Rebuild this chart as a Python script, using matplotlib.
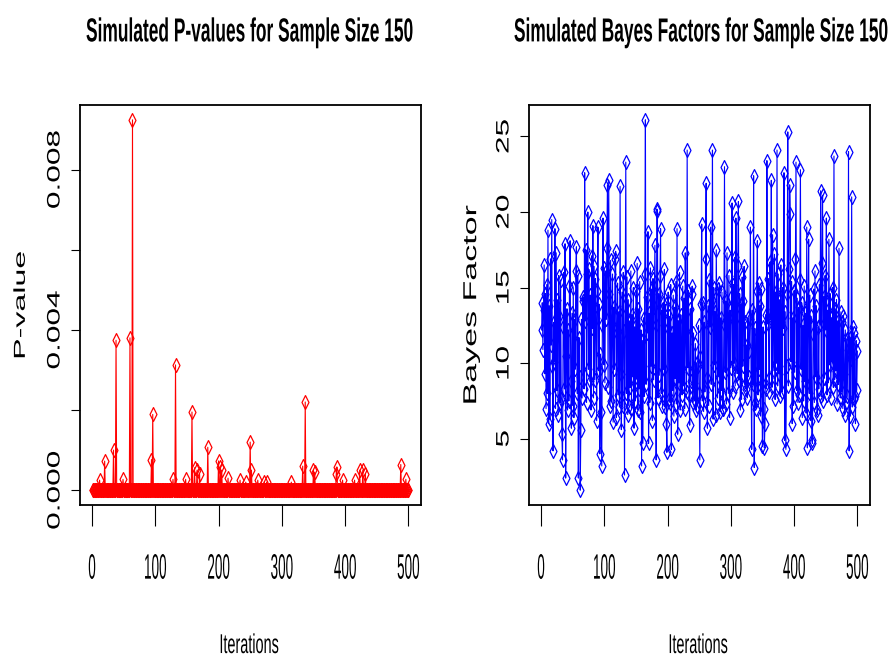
import numpy as np
import matplotlib
matplotlib.use("Agg")
import matplotlib.pyplot as plt
from matplotlib.patheffects import AbstractPathEffect
from matplotlib.transforms import Affine2D
from matplotlib.textpath import TextPath
from matplotlib.font_manager import FontProperties

plt.rcParams['font.family'] = ['Liberation Sans', 'DejaVu Sans']

# ---- data ----
iterations = np.arange(1, 501)

# p-values are ~0 everywhere except these iterations
spike_iter = [12, 20, 34, 38, 49, 60, 64, 94, 96, 128, 132, 148, 158, 162, 166,
              170, 183, 200, 203, 205, 215, 234, 243, 250, 252, 262, 272, 276,
              315, 333, 337, 350, 352, 386, 387, 396, 415, 423, 428, 432, 488, 496]
spike_p = [0.00025, 0.000725, 0.0010, 0.00374, 0.00027, 0.0038, 0.00924, 0.00076,
           0.00189, 0.00027, 0.003125, 0.00027, 0.00195, 0.00056, 0.0005,
           0.0004, 0.00107, 0.00073, 0.00058, 0.0005, 0.0003, 0.00025, 0.0002,
           0.0012, 0.0005, 0.00025, 0.0002, 0.0002,
           0.0002, 0.0006, 0.0022, 0.0005, 0.00045, 0.0004, 0.00058, 0.00025,
           0.00025, 0.0005, 0.0005, 0.0004, 0.00064, 0.00027]

bayes_factor = [
    12.2, 14.0, 10.9, 13.5, 16.5, 9.3, 14.6, 7.0, 15.2, 8.0, 18.8, 6.0, 13.8, 6.3, 16.9, 11.2, 19.5, 9.8, 4.2, 12.7,
    10.1, 18.9, 7.0, 17.3, 8.2, 14.2, 6.6, 15.8, 13.1, 7.4, 15.5, 7.6, 5.3, 3.6, 12.4, 16.0, 8.3, 17.9, 2.4, 10.5,
    13.6, 6.9, 12.2, 7.5, 15.1, 18.1, 8.8, 5.7, 13.3, 7.2, 15.0, 6.4, 12.9, 9.6, 16.1, 17.7, 8.0, 15.8, 2.4, 11.7,
    9.1, 1.6, 5.6, 12.9, 7.7, 14.4, 14.1, 8.3, 22.6, 12.8, 17.5, 7.4, 15.9, 20.0, 9.6, 16.2, 8.8, 14.5, 6.9, 17.1,
    12.3, 19.1, 7.7, 16.4, 8.9, 15.6, 13.0, 6.2, 14.8, 19.0, 9.5, 13.9, 4.0, 10.6, 6.8, 3.2, 12.5, 19.6, 9.9, 16.3,
    8.7, 16.1, 12.9, 17.6, 21.8, 8.4, 22.1, 14.6, 7.2, 16.8, 7.5, 12.6, 15.9, 6.1, 13.7, 9.6, 16.9, 17.4, 6.4, 12.0,
    15.3, 7.9, 13.4, 7.1, 21.7, 9.3, 5.6, 14.7, 7.2, 16.0, 12.1, 2.6, 13.8, 23.3, 8.0, 15.7, 6.6, 14.2, 7.2, 12.8,
    8.4, 16.1, 7.0, 13.2, 9.1, 15.0, 5.7, 12.4, 7.5, 14.8, 9.0, 16.6, 6.9, 13.6, 8.3, 15.4, 6.8, 12.2, 3.2, 11.5,
    4.7, 13.0, 7.8, 15.9, 26.1, 8.6, 14.4, 12.0, 18.7, 4.7, 13.3, 7.4, 16.3, 9.8, 14.9, 6.2, 15.6, 8.9, 13.7, 17.8,
    12.5, 3.6, 20.2, 20.1, 7.7, 14.6, 9.2, 15.8, 18.9, 8.0, 13.5, 7.2, 14.0, 9.6, 16.2, 7.1, 13.9, 6.0, 4.1, 12.3,
    14.7, 7.6, 13.1, 7.4, 15.2, 4.3, 12.0, 8.2, 14.5, 6.5, 13.7, 9.0, 15.4, 7.3, 18.9, 5.3, 12.8, 8.7, 16.0, 6.9,
    13.2, 9.4, 7.9, 15.1, 8.5, 14.3, 7.0, 17.3, 12.1, 8.1, 24.1, 9.7, 14.8, 7.9, 5.9, 13.6, 8.8, 14.6, 15.1, 7.4,
    12.0, 8.7, 7.5, 11.3, 6.9, 10.0, 7.2, 9.8, 12.5, 8.0, 3.6, 10.4, 13.9, 19.2, 7.5, 14.0, 6.8, 12.7, 8.1, 16.9,
    21.9, 9.0, 5.7, 13.8, 7.2, 15.5, 12.4, 19.0, 8.6, 14.2, 24.1, 6.3, 15.0, 9.9, 13.4, 6.6, 17.5, 12.2, 7.7, 14.9,
    9.1, 15.3, 6.8, 13.0, 8.2, 14.7, 7.0, 7.0, 12.6, 23.0, 9.4, 14.1, 7.3, 17.3, 12.8, 8.0, 15.8, 6.4, 13.5, 9.7,
    14.4, 20.6, 8.1, 15.2, 10.0, 17.0, 8.5, 19.6, 13.1, 9.3, 16.4, 20.7, 8.9, 14.6, 6.9, 13.9, 7.6, 15.7, 9.8, 14.1,
    16.4, 8.6, 12.7, 8.3, 11.2, 7.7, 13.0, 9.1, 10.8, 12.9, 19.0, 8.8, 4.3, 13.5, 8.6, 22.4, 3.1, 12.3, 7.4, 7.0,
    14.8, 18.1, 7.9, 15.3, 9.6, 13.8, 6.5, 14.9, 8.7, 4.5, 12.4, 7.0, 4.4, 6.0, 13.2, 8.3, 23.4, 12.6, 15.6, 9.0,
    8.1, 16.7, 12.9, 22.1, 8.4, 18.5, 13.6, 9.5, 17.2, 7.6, 14.7, 10.0, 24.1, 8.5, 15.9, 9.3, 14.2, 7.8, 16.5, 12.7,
    8.1, 15.0, 12.3, 22.6, 4.9, 13.4, 4.3, 9.8, 14.6, 25.3, 8.5, 16.2, 21.8, 19.9, 10.1, 15.4, 6.0, 13.0, 7.2, 14.8,
    9.4, 16.9, 23.3, 8.2, 14.3, 7.4, 13.7, 7.9, 15.5, 22.8, 9.6, 14.0, 6.4, 12.5, 7.5, 15.1, 8.8, 13.3, 6.7, 19.0,
    4.4, 12.9, 18.2, 8.0, 14.5, 6.2, 13.1, 4.9, 4.7, 11.9, 14.9, 7.4, 16.1, 9.1, 13.8, 6.9, 6.6, 12.4, 8.3, 15.2,
    12.6, 21.4, 7.8, 16.6, 21.1, 7.5, 14.4, 9.0, 15.8, 12.2, 19.6, 7.9, 13.5, 8.7, 18.2, 9.9, 14.6, 7.7, 13.0, 10.1,
    15.0, 8.4, 23.7, 8.9, 13.6, 9.5, 14.2, 7.3, 12.8, 8.6, 17.6, 9.2, 7.7, 13.4, 8.1, 12.7, 7.0, 13.1, 9.3, 6.6,
    12.2, 7.4, 11.6, 7.8, 10.9, 24.0, 4.2, 11.7, 6.5, 10.3, 21.0, 7.1, 12.4, 7.6, 12.0, 7.8, 6.0, 11.5, 8.2, 10.8,
]

x_ticks = [0, 100, 200, 300, 400, 500]
p_ticks = [0.0, 0.002, 0.004, 0.006, 0.008]
p_tick_labels = ['0.000', '', '0.004', '', '0.008']
bf_ticks = [5, 10, 15, 20, 25]
bf_tick_labels = ['5', '10', '15', '20', '25']

titles = ['Simulated P-values for Sample Size 150',
          'Simulated Bayes Factors for Sample Size 150']
ylabels = ['P-value', 'Bayes Factor']

p_values = np.zeros(len(iterations))
p_values[np.array(spike_iter) - 1] = spike_p

PX = 100 / 72  # pixels per point


class Stretch(AbstractPathEffect):
    # the R png was resized unevenly, so stretch glyphs about their centre
    def __init__(self, sx=1.0, sy=1.0):
        super().__init__()
        self.sx, self.sy = sx, sy

    def draw_path(self, renderer, gc, tpath, affine, rgbFace=None):
        bb = tpath.get_extents(affine)
        cx, cy = (bb.x0 + bb.x1) / 2, (bb.y0 + bb.y1) / 2
        t = affine + Affine2D().translate(-cx, -cy).scale(self.sx, self.sy).translate(cx, cy)
        renderer.draw_path(gc, tpath, t, rgbFace)


def ink_box(s, size, weight='normal'):
    fp = FontProperties(family=['Liberation Sans'], size=size, weight=weight)
    e = TextPath((0, 0), s, prop=fp).get_extents()
    return e.x0 * PX, e.x1 * PX, e.y0 * PX, e.y1 * PX


def fit_h(s, left, right, top, bottom, weight='normal'):
    # font size from the ink width, vertical stretch from the ink height
    x0, x1, y0, y1 = ink_box(s, 10, weight)
    size = 10 * (right - left) / (x1 - x0)
    x0, x1, y0, y1 = ink_box(s, size, weight)
    sy = (bottom - top) / (y1 - y0)
    baseline = (top + bottom) / 2 + (y0 + y1) / 2
    return size, sy, baseline


def fit_v(s, left, right, top, bottom):
    # rotated text: size from the ink thickness, stretch along the text
    x0, x1, y0, y1 = ink_box(s, 10)
    size = 10 * (right - left) / (y1 - y0)
    x0, x1, y0, y1 = ink_box(s, size)
    sy = (bottom - top) / (x1 - x0)
    base_x = (left + right) / 2 + (y0 + y1) / 2
    return size, sy, base_x


def rlim(v):
    # R's default 4% axis padding
    lo, hi = float(np.min(v)), float(np.max(v))
    d = 0.04 * (hi - lo)
    return lo - d, hi + d


W, H = 892, 661
fig = plt.figure(figsize=(W / 100, H / 100), dpi=100)

AX_TOP, AX_BOT = 105, 505
ax_left = [80, 529]
AX_W = 341
axes = [fig.add_axes([x0 / W, (H - AX_BOT) / H, AX_W / W, (AX_BOT - AX_TOP) / H]) for x0 in ax_left]

diamond = [(0, 1), (0.5, 0), (0, -1), (-0.5, 0), (0, 1)]

# ink boxes of the texts in the reference (pixels, from the top-left corner)
title_box = [(87, 413), (515, 888)]
ylabel_box = [(13.3, 25, 252, 357), (463.3, 480, 210, 407)]
xlabel_x = [(220.7, 278.3), (669.7, 727.3)]

tick_len = 21
xt_size, xt_sy, xt_base = fit_h('100', 0, 21, 554, 579)
yt_size = 13
_, _, y0, y1 = ink_box('0.004', yt_size)
x0, x1, _, _ = ink_box('0.004', yt_size)
yt_sy = 77 / (x1 - x0)

series = [(p_values, 'red', p_ticks, p_tick_labels),
          (np.array(bayes_factor), 'blue', bf_ticks, bf_tick_labels)]

for i, ax in enumerate(axes):
    vals, col, yt, ytl = series[i]
    ax.plot(iterations, vals, color=col, lw=0.8, marker=diamond, ms=10,
            mfc='none', mec=col, mew=0.9)
    ax.set_xlim(rlim(iterations))
    ax.set_ylim(rlim(vals))
    ax.set_xticks(x_ticks)
    ax.set_xticklabels([str(t) for t in x_ticks])
    ax.set_yticks(yt)
    ax.set_yticklabels(ytl)
    ax.tick_params(axis='x', direction='out', length=tick_len / PX, width=0.8,
                   pad=(xt_base - AX_BOT - tick_len) / PX, labelsize=xt_size)
    ax.tick_params(axis='y', direction='out', length=6.5, width=0.8, pad=11.5,
                   labelsize=yt_size, labelrotation=90)
    for lab in ax.get_xticklabels():
        lab.set_va('baseline')
        lab.set_path_effects([Stretch(sy=xt_sy)])
    for lab in ax.get_yticklabels():
        lab.set_ha('center')
        lab.set_va('center')
        lab.set_path_effects([Stretch(sy=yt_sy)])
    for s in ax.spines.values():
        s.set_linewidth(1.3)

    # title
    l, rr = title_box[i]
    size, sy, base = fit_h(titles[i], l, rr, 17.3, 48.3, 'bold')
    ax.set_title(titles[i], fontsize=size, fontweight='bold', pad=0,
                 x=((l + rr) / 2 - ax_left[i]) / AX_W, y=(AX_BOT - base) / (AX_BOT - AX_TOP))
    ax.title.set_path_effects([Stretch(sy=sy)])

    # x label
    l, rr = xlabel_x[i]
    size, sy, base = fit_h('Iterations', l, rr, 633.3, 653.3)
    ax.set_xlabel('Iterations', fontsize=size, va='baseline')
    ax.xaxis.set_label_coords(((l + rr) / 2 - ax_left[i]) / AX_W, (AX_BOT - base) / (AX_BOT - AX_TOP))
    ax.xaxis.label.set_path_effects([Stretch(sy=sy)])

    # y label
    a, b, top, bot = ylabel_box[i]
    size, sy, base_x = fit_v(ylabels[i], a, b, top, bot)
    ax.set_ylabel(ylabels[i], fontsize=size, va='baseline')
    ax.yaxis.set_label_coords((base_x - ax_left[i]) / AX_W, 0.5)
    ax.yaxis.label.set_path_effects([Stretch(sy=sy)])

fig.savefig('out.png', dpi=100)
